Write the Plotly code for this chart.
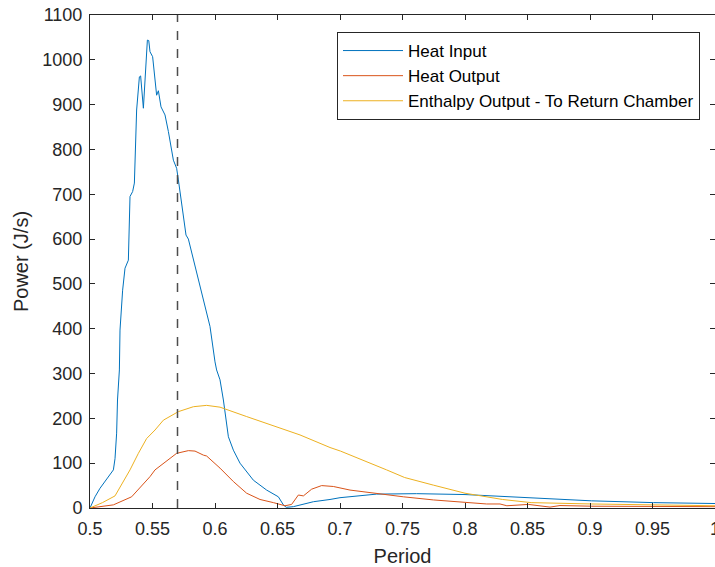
import plotly.graph_objects as go

# Heat Input
hi_x = [0.500, 0.504, 0.508, 0.513, 0.5187, 0.520, 0.5213, 0.522, 0.5235, 0.524, 0.5261, 0.528,
        0.5307, 0.532, 0.5341, 0.5355, 0.5373, 0.5395, 0.5405, 0.5427, 0.5445, 0.5459, 0.547,
        0.548, 0.5501, 0.552, 0.5533, 0.5547, 0.5568, 0.560, 0.5627, 0.5667, 0.5693, 0.5707,
        0.5728, 0.5768, 0.5787, 0.5867, 0.596, 0.600, 0.6013, 0.604, 0.6067, 0.6107, 0.6147,
        0.620, 0.6307, 0.6413, 0.6507, 0.6547, 0.657, 0.6627, 0.668, 0.6787, 0.692, 0.700,
        0.7293, 0.7613, 0.800, 0.836, 0.9013, 0.9507, 1.0]
hi_y = [0, 25, 44, 62, 85, 110, 167, 241, 308, 397, 486, 535,
        553, 695, 706, 725, 888, 962, 964, 892, 985, 1044, 1043,
        1018, 1007, 962, 921, 931, 895, 877, 840, 776, 758, 732,
        689, 609, 600, 509, 405, 326, 308, 286, 241, 159, 129,
        100, 62, 40, 25, 7, 1.5, 3, 7, 14, 19, 23,
        31, 32, 30, 25, 16, 12, 10]

# Heat Output
ho_x = [0.500, 0.510, 0.5187, 0.5333, 0.548, 0.552, 0.5587, 0.5693, 0.5787, 0.584, 0.5907, 0.5933,
        0.604, 0.6147, 0.6253, 0.636, 0.6467, 0.656, 0.6613, 0.6667, 0.6707, 0.6773, 0.6853,
        0.6947, 0.708, 0.732, 0.7507, 0.7747, 0.800, 0.8173, 0.828, 0.8335, 0.8507, 0.868,
        0.876, 0.9013, 0.950, 1.0]
ho_y = [0, 3, 7, 25, 70, 85, 100, 122, 128, 127, 118, 116,
        89, 59, 33, 19, 12, 5, 8, 29, 27, 42, 50,
        48, 40, 31, 25, 18, 13, 9, 9, 5, 8, 2,
        5.5, 4, 3.5, 3]

# Enthalpy Output - To Return Chamber
en_x = [0.500, 0.510, 0.520, 0.532, 0.5387, 0.5453, 0.552, 0.5587, 0.5707, 0.5827, 0.5933, 0.604,
        0.6253, 0.652, 0.668, 0.692, 0.7004, 0.7373, 0.7517, 0.7747, 0.800, 0.830, 0.8529,
        0.9013, 0.9541, 1.0]
en_y = [0, 12, 27, 85, 122, 155, 174, 196, 215, 226, 229, 225,
        204, 178, 163, 135, 127, 85, 68, 51, 33, 19, 12,
        9, 7, 5]

marker_x = 0.57

x_ticks = [0.5, 0.55, 0.6, 0.65, 0.7, 0.75, 0.8, 0.85, 0.9, 0.95, 1.0]
x_labels = ["0.5", "0.55", "0.6", "0.65", "0.7", "0.75", "0.8", "0.85", "0.9", "0.95", "1"]
y_ticks = list(range(0, 1101, 100))

FONT = "Liberation Sans, Arial, sans-serif"
AX = "#262626"

fig = go.Figure()
fig.add_trace(go.Scatter(x=hi_x, y=hi_y, mode="lines", name="Heat Input",
                         line=dict(color="#0072BD", width=1)))
fig.add_trace(go.Scatter(x=ho_x, y=ho_y, mode="lines", name="Heat Output",
                         line=dict(color="#D95319", width=1)))
fig.add_trace(go.Scatter(x=en_x, y=en_y, mode="lines", name="Enthalpy Output - To Return Chamber",
                         line=dict(color="#EDB120", width=1)))

fig.add_shape(type="line", x0=marker_x, x1=marker_x, xref="x", y0=0, y1=1, yref="paper",
              line=dict(color="#4d4d4d", width=1.5, dash="dash"))

axis_common = dict(showgrid=False, zeroline=False, showline=True, linecolor=AX, linewidth=1,
                   ticks="inside", ticklen=5, tickcolor=AX, tickwidth=1, mirror="ticks",
                   tickfont=dict(family=FONT, size=18, color=AX), automargin=False,
                   ticklabeloverflow="allow")

fig.update_xaxes(range=[0.5, 1.0], tickvals=x_ticks, ticktext=x_labels, ticklabelstandoff=4,
                 title=dict(text="Period", font=dict(family=FONT, size=20, color=AX), standoff=11),
                 **axis_common)
fig.update_yaxes(range=[0, 1100], tickvals=y_ticks, ticklabelstandoff=3,
                 title=dict(text="Power (J/s)", font=dict(family=FONT, size=20, color=AX), standoff=8),
                 **axis_common)

fig.update_layout(
    template="none",
    width=715, height=567,
    margin=dict(l=90, r=0, t=15, b=59),
    paper_bgcolor="white", plot_bgcolor="white",
    font=dict(family=FONT, color=AX),
    showlegend=True,
    legend=dict(x=0.976, y=0.9655, xanchor="right", yanchor="top",
                bgcolor="white", bordercolor=AX, borderwidth=1,
                font=dict(family=FONT, size=17, color="#000000"),
                itemwidth=60, tracegroupgap=0),
)

fig.write_html("out.html")
